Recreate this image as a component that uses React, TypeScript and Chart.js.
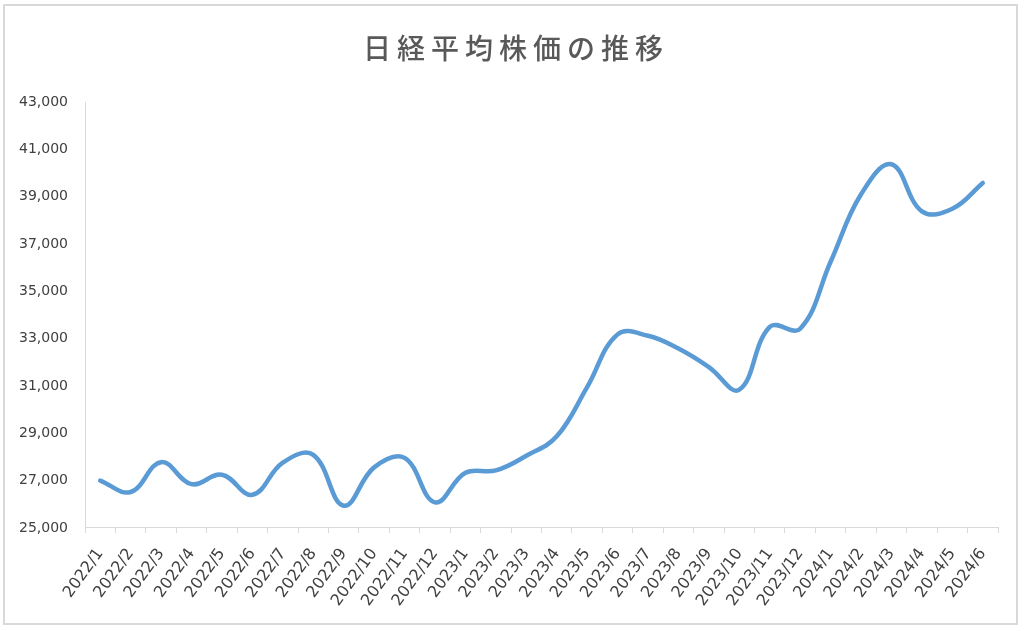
import React, { useEffect, useRef } from "react";
import { Chart, registerables } from "chart.js";

Chart.register(...registerables);

const TITLE = "日経平均株価の推移";
const MONTHS = [
  "2022/1", "2022/2", "2022/3", "2022/4", "2022/5", "2022/6", "2022/7", "2022/8", "2022/9", "2022/10", "2022/11", "2022/12",
  "2023/1", "2023/2", "2023/3", "2023/4", "2023/5", "2023/6", "2023/7", "2023/8", "2023/9", "2023/10", "2023/11", "2023/12",
  "2024/1", "2024/2", "2024/3", "2024/4", "2024/5", "2024/6",
];
const NIKKEI = [
  27000, 26520, 27780, 26850, 27250, 26400, 27760, 28090, 25940, 27560, 27960, 26080,
  27330, 27430, 28050, 28870, 30950, 33180, 33120, 32580, 31800, 30840, 33500, 33420,
  36250, 39100, 40370, 38380, 38490, 39580,
];
const Y_MIN = 25000;
const Y_MAX = 43000;
const Y_STEP = 2000;

export default function App() {
  const ref = useRef<HTMLCanvasElement | null>(null);
  useEffect(() => {
    if (!ref.current) return;
    const font = "'DejaVu Sans', sans-serif";
    const chart = new Chart(ref.current, {
      type: "line",
      data: {
        labels: MONTHS,
        datasets: [
          {
            data: NIKKEI,
            borderColor: "#5B9BD5",
            borderWidth: 4.5,
            pointRadius: 0,
            tension: 0.4,
            fill: false,
            borderCapStyle: "round",
          },
        ],
      },
      options: {
        animation: false,
        responsive: false,
        maintainAspectRatio: false,
        layout: { padding: { left: 18, right: 26, top: 102, bottom: 9 } },
        plugins: {
          legend: { display: false },
          tooltip: { enabled: false },
          title: { display: false },
        },
        scales: {
          x: {
            type: "category",
            offset: true,
            afterFit: (scale: any) => {
              scale.paddingLeft = 0;
            },
            grid: {
              display: true,
              drawOnChartArea: false,
              drawTicks: true,
              tickLength: 5,
              color: "#d9d9d9",
              offset: true,
            },
            border: { display: true, color: "#d9d9d9", width: 1 },
            ticks: {
              color: "#404040",
              font: { family: font, size: 16 },
              minRotation: 54,
              maxRotation: 54,
              autoSkip: false,
              padding: 12,
            },
          },
          y: {
            min: Y_MIN,
            max: Y_MAX,
            afterFit: (scale: any) => {
              scale.width = 67;
            },
            grid: { display: true, drawOnChartArea: false, drawTicks: false, color: "#d9d9d9" },
            border: { display: true, color: "#d9d9d9", width: 1 },
            ticks: {
              stepSize: Y_STEP,
              color: "#404040",
              font: { family: font, size: 14 },
              padding: 17,
              callback: (v: any) => Number(v).toLocaleString("en-US"),
            },
          },
        },
      },
    });
    return () => chart.destroy();
  }, []);
  return (
    <div style={{ position: "fixed", left: 0, top: 0, width: 1024, height: 631, background: "#fff" }}>
      <canvas ref={ref} width={1024} height={631} style={{ display: "block" }} />
      <div
        style={{
          position: "absolute",
          left: 0,
          top: 33,
          width: 1024,
          textAlign: "center",
          fontFamily: "'Noto Sans CJK JP', sans-serif",
          fontSize: 28,
          lineHeight: "28px",
          fontWeight: 500,
          letterSpacing: 6,
          paddingLeft: 8,
          boxSizing: "border-box",
          color: "#595959",
        }}
      >
        {TITLE}
      </div>
      <div
        style={{
          position: "absolute",
          left: 3,
          top: 4,
          width: 1011,
          height: 617,
          border: "2px solid #d9d9d9",
          pointerEvents: "none",
        }}
      />
    </div>
  );
}
